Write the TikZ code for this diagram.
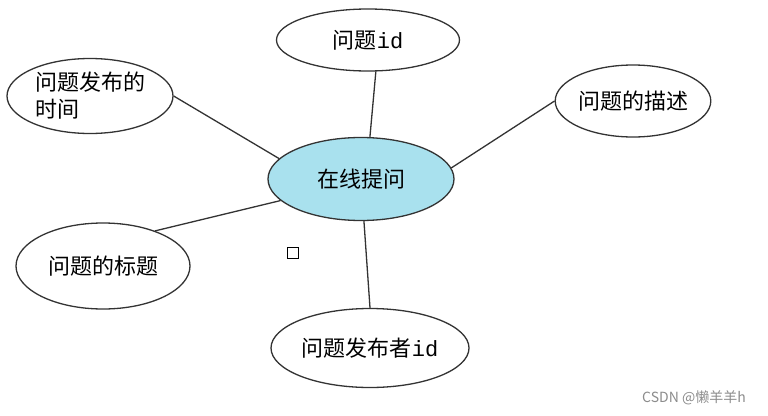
\documentclass[tikz,border=0pt]{standalone}
\usepackage{fontspec}
\usepackage{xcolor}
\usepackage{tikz}
\usetikzlibrary{shapes.geometric}
\setmainfont{Noto Sans CJK SC}
\setmonofont{Liberation Mono}
\definecolor{askblue}{HTML}{A9E1EE}
\definecolor{ink}{HTML}{333333}
\newcommand{\code}[1]{\texttt{#1}}

\begin{document}
\begin{tikzpicture}[
  x=1pt, y=-1pt,
  attr/.style={ellipse, draw=ink, line width=1.3pt, fill=white, inner sep=0pt, align=center, font=\fontsize{22}{27}\selectfont},
  entity/.style={attr, fill=askblue},
  link/.style={line width=1.3pt, draw=ink}
]
\useasboundingbox (0,0) rectangle (768,415);
\fill[white] (0,0) rectangle (768,415);

\node[entity, minimum width=186pt, minimum height=83pt] (ask) at (361,179) {在线提问};
\node[attr, minimum width=183pt, minimum height=62pt] (qid) at (368,40) {问题\code{id}};
\node[attr, minimum width=166pt, minimum height=75pt, align=left] (qtime) at (90,96) {问题发布的\\时间};
\node[attr, minimum width=154pt, minimum height=72pt] (qdesc) at (633,101) {问题的描述};
\node[attr, minimum width=174pt, minimum height=86pt] (qtitle) at (103,266) {问题的标题};
\node[attr, minimum width=198pt, minimum height=79pt] (qauthor) at (370,348) {问题发布者\code{id}};
\node[draw=black, line width=1pt, minimum size=11pt, inner sep=0pt] (mark) at (293,252.5) {};
\node[text=black!45, font=\fontsize{14}{16}\selectfont] (wm) at (694,398) {CSDN @懒羊羊h};

\draw[link] (qid.284) -- (ask.78);
\draw[link] (qtime.east) -- (ask.166);
\draw[link] (qdesc.west) -- (ask.7);
\draw[link] (qtitle.34) -- (ask.195);
\draw[link] (qauthor.north) -- (ask.274);
\end{tikzpicture}
\end{document}
